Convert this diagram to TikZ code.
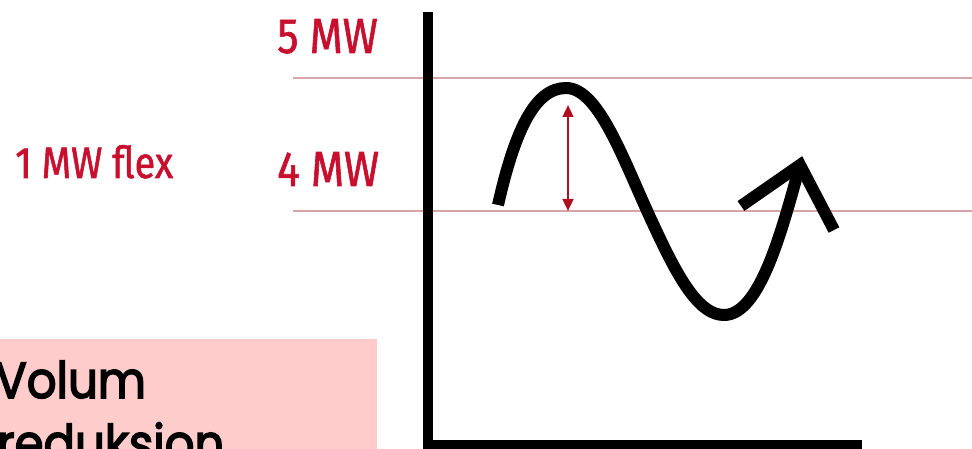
\documentclass[tikz,border=0pt]{standalone}
\usepackage{fontspec}
\setmainfont{Fira Sans}
\newfontfamily\labelfont[FakeStretch=0.86,FakeBold=1.2]{Fira Sans}
\newfontfamily\boxfont[FakeStretch=0.92,FakeBold=3]{Poppins}
\usetikzlibrary{arrows.meta}
\definecolor{lblred}{HTML}{C8102E}
\definecolor{linered}{HTML}{D9A3AA}
\definecolor{arrred}{HTML}{B00D1E}
\definecolor{pinkbox}{HTML}{FFCCCC}
\tikzset{
  lbl/.style={anchor=base west, inner sep=0pt, text=lblred, font=\labelfont\fontsize{37}{40}\selectfont},
  lblsmall/.style={anchor=base west, inner sep=0pt, text=lblred, font=\labelfont\fontsize{33}{36}\selectfont},
  boxtext/.style={anchor=base west, inner sep=0pt, font=\boxfont\fontsize{38}{46}\selectfont},
  level/.style={draw=linered, line width=1.5},
  axis/.style={draw=black, line width=7.5},
  wave/.style={draw=black, line width=9, line cap=butt},
  flexarrow/.style={draw=arrred, line width=1.8, {Triangle[width=8pt,length=9pt]}-{Triangle[width=8pt,length=9pt]}}
}
\begin{document}
\begin{tikzpicture}[x=0.75pt, y=-0.75pt]
\useasboundingbox (0,0) rectangle (972,449);
\clip (0,0) rectangle (972,449);
% pink box
\fill[pinkbox] (0,339) rectangle (377,460);
\node[boxtext] (vol) at (-5,398) {Volum};
\node[boxtext] (red) at (-3,461) {reduksion};
% level lines
\coordinate (l5a) at (293,78);
\coordinate (l5b) at (972,78);
\coordinate (l4a) at (293,211);
\coordinate (l4b) at (972,211);
\draw[level] (l5a) -- (l5b);
\draw[level] (l4a) -- (l4b);
% labels
\node[lbl] (five) at (277,53) {5 MW};
\node[lbl] (four) at (277,186) {4 MW};
\node[lblsmall] (flex) at (15,178) {1 MW flex};
% axes
\coordinate (ytop) at (428,12);
\coordinate (origin) at (428,445);
\coordinate (xend) at (862,445);
\draw[axis] (ytop) -- (428,449) ;
\draw[axis] (423,445) -- (xend);
% wave
\coordinate (tip) at (800,165);
\draw[wave, line join=miter] (498,205) .. controls (515,130) and (535,88) .. (566,88)
  .. controls (600,88) and (625,165) .. (655,228)
  .. controls (680,282) and (700,315) .. (724,315)
  .. controls (760,315) and (782,230) .. (tip);
\coordinate (armL) at (741,206);
\coordinate (armR) at (834,230);
\draw[wave, line join=miter] (armL) -- (tip) -- (armR);
% flex arrow
\coordinate (fa) at (568,105);
\coordinate (fb) at (568,211);
\draw[flexarrow] (fa) -- (fb);
\end{tikzpicture}
\end{document}
